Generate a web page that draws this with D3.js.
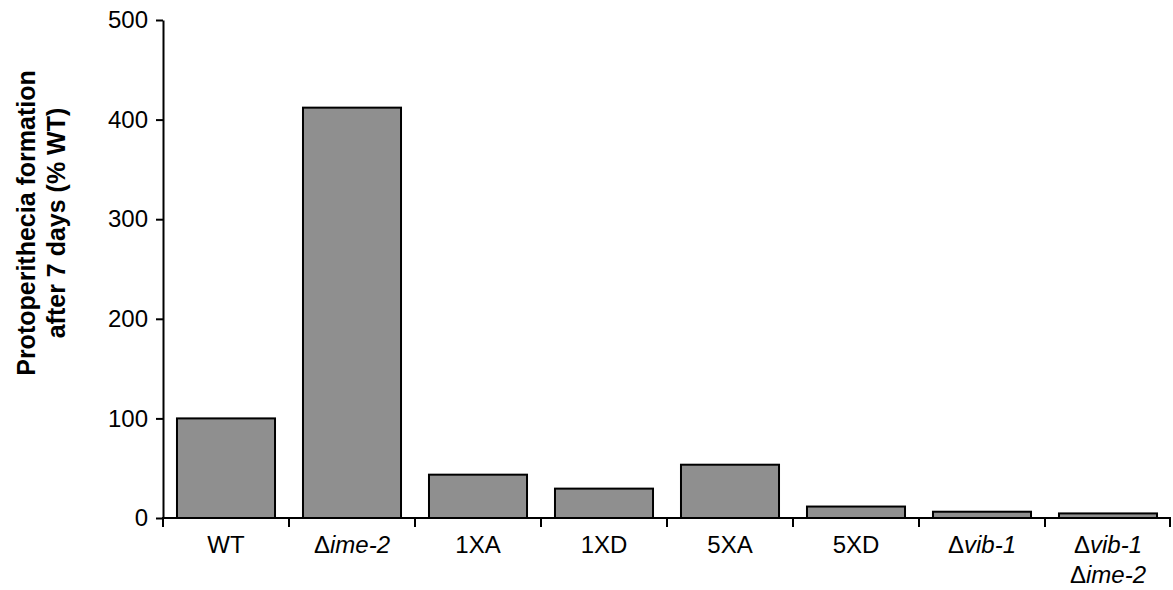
<!DOCTYPE html>
<html>
<head>
<meta charset="utf-8">
<script src="https://cdn.jsdelivr.net/npm/d3@7"></script>
<style>
  html, body { margin: 0; padding: 0; background: #fff; }
  svg { display: block; font-family: "Liberation Sans", Arial, sans-serif; }
</style>
</head>
<body>
<svg id="chart" width="1173" height="590"></svg>
<script>
// strains on the x axis, a space means a line break
const categories = ["WT", "Δime-2", "1XA", "1XD", "5XA", "5XD", "Δvib-1", "Δvib-1 Δime-2"];
// protoperithecia formation, % of WT
const values = [100, 412, 43.5, 29.5, 53.5, 11.5, 6.3, 4.6];
const yTicks = [0, 100, 200, 300, 400, 500];

const W = 1173, H = 590;
const margin = { top: 20, right: 2, bottom: 72, left: 163 };

const svg = d3.select("#chart");

const x = d3.scaleBand()
  .domain(categories)
  .range([margin.left, W - margin.right])
  .paddingInner(0.222)
  .paddingOuter(0.111);

const y = d3.scaleLinear()
  .domain([0, 500])
  .range([H - margin.bottom, margin.top]);

// bars
svg.append("g")
  .selectAll("rect")
  .data(categories)
  .join("rect")
    .attr("x", (d) => x(d))
    .attr("y", (d, i) => y(values[i]))
    .attr("width", x.bandwidth())
    .attr("height", (d, i) => y(0) - y(values[i]))
    .attr("fill", "#8f8f8f")
    .attr("stroke", "#000")
    .attr("stroke-width", 2);

// y axis
const yAxis = svg.append("g")
  .attr("transform", `translate(${margin.left},0)`)
  .call(d3.axisLeft(y).tickValues(yTicks).tickSize(7).tickSizeOuter(0).tickPadding(8));
yAxis.select(".domain").attr("stroke", "#000").attr("stroke-width", 2);
yAxis.selectAll(".tick line").attr("stroke", "#000").attr("stroke-width", 2);
yAxis.selectAll(".tick text").attr("font-size", 24).attr("fill", "#000")
  .attr("font-family", "Liberation Sans, Arial, sans-serif");

// x axis: line plus ticks at band boundaries
const x0 = x.range()[0], x1 = x.range()[1];
const gx = svg.append("g");
gx.append("line")
  .attr("x1", x0 - 1).attr("x2", x1)
  .attr("y1", y(0)).attr("y2", y(0))
  .attr("stroke", "#000").attr("stroke-width", 2);

const gap = x.step() - x.bandwidth();
const bounds = categories.map((d) => x(d) - gap / 2).concat([x1 - 1]);
gx.selectAll("line.tk")
  .data(bounds)
  .join("line")
    .attr("class", "tk")
    .attr("x1", (d) => d).attr("x2", (d) => d)
    .attr("y1", y(0)).attr("y2", y(0) + 9)
    .attr("stroke", "#000").attr("stroke-width", 2);

// x labels, Δ upright and gene name italic
const labels = gx.selectAll("text.xl")
  .data(categories)
  .join("text")
    .attr("class", "xl")
    .attr("x", (d) => x(d) + x.bandwidth() / 2)
    .attr("y", y(0) + 35)
    .attr("text-anchor", "middle")
    .attr("font-size", 24)
    .attr("fill", "#000");

labels.each(function (d) {
  const t = d3.select(this);
  d.split(" ").forEach((line, li) => {
    const cx = x(d) + x.bandwidth() / 2;
    if (line.startsWith("Δ")) {
      t.append("tspan").attr("x", cx).attr("dy", li === 0 ? 0 : 30).text("Δ");
      t.append("tspan").attr("font-style", "italic").text(line.slice(1));
    } else {
      t.append("tspan").attr("x", cx).attr("dy", li === 0 ? 0 : 30).text(line);
    }
  });
});

// y title
const yt = svg.append("text")
  .attr("transform", "translate(35,223) rotate(-90)")
  .attr("text-anchor", "middle")
  .attr("font-size", 25)
  .attr("font-weight", "bold")
  .attr("fill", "#000");
yt.append("tspan").attr("x", 0).attr("dy", 0).text("Protoperithecia formation");
yt.append("tspan").attr("x", 0).attr("dy", 30).text("after 7 days (% WT)");
</script>
</body>
</html>
